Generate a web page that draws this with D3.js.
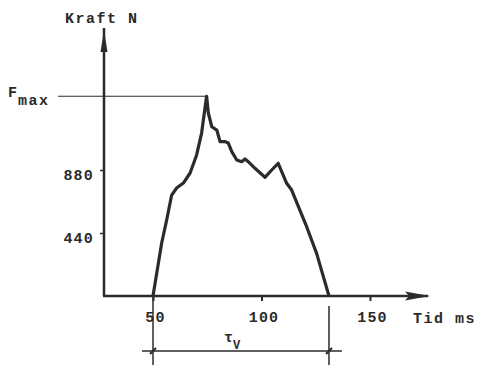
<!DOCTYPE html>
<html>
<head>
<meta charset="utf-8">
<script src="https://cdn.jsdelivr.net/npm/d3@7"></script>
<style>
  body { margin: 0; background: #fff; }
  text { font-family: "Liberation Mono", "DejaVu Sans Mono", monospace; font-weight: bold; fill: #2b2b2b; }
</style>
</head>
<body>
<script>
// force curve (time in ms, force in N)
const tid   = [50, 54.0, 56.3, 58.6, 60.9, 64.0, 67.1, 70.1, 72.4, 74.7, 75.5, 77.1, 79.4, 80.9, 83.2, 84.7, 86.3, 88.6, 90.9, 92.4, 93.9, 97.0, 101.6, 104.7, 107.7, 111.6, 113.9, 120.8, 125.4, 131.1];
const kraft = [0, 370, 531, 705, 754, 789, 859, 985, 1138, 1395, 1278, 1182, 1159, 1078, 1078, 1068, 1008, 950, 938, 957, 938, 892, 829, 880, 927, 787, 740, 484, 298, 0];
const xTicks = [50, 100, 150];
const yTicks = [440, 880];
const fMax = 1395;
const tauStart = 50, tauEnd = 131.1;

const width = 480, height = 365;
const ink = "#2b2b2b";

const svg = d3.select("body").append("svg")
    .attr("width", width)
    .attr("height", height);

// scales
const x = d3.scaleLinear().domain([50, 150]).range([153, 370]);
const y = d3.scaleLinear().domain([0, 880]).range([296, 170]);

const x0 = 104, y0 = y(0);

// x axis ticks + labels
const xAxis = svg.append("g")
    .attr("transform", "translate(0," + y0 + ")")
    .call(d3.axisBottom(x).tickValues(xTicks).tickSize(5).tickPadding(10).tickFormat(d3.format("d")));
xAxis.select(".domain").remove();
xAxis.selectAll("line").attr("stroke", ink).attr("stroke-width", 2);
xAxis.selectAll("text").style("font-size", "15px").style("letter-spacing", "1.2px").attr("fill", ink).attr("dx", 2);

// y axis ticks + labels
const yAxis = svg.append("g")
    .attr("transform", "translate(" + x0 + ",0)")
    .call(d3.axisLeft(y).tickValues(yTicks).tickSize(4).tickPadding(6));
yAxis.select(".domain").remove();
yAxis.selectAll("line").attr("stroke", ink).attr("stroke-width", 1.5);
yAxis.selectAll("text").style("font-size", "15px").style("letter-spacing", "1.2px").attr("fill", ink).attr("dy", "0.6em");

// axis lines with arrows
svg.append("line")
    .attr("x1", x0).attr("y1", y0).attr("x2", x0).attr("y2", 28)
    .attr("stroke", ink).attr("stroke-width", 2.5);
svg.append("path")
    .attr("d", `M${x0},30 L${x0 - 3.5},52 L${x0 + 3.5},52 Z`)
    .attr("fill", ink);

svg.append("line")
    .attr("x1", x0 - 1).attr("y1", y0).attr("x2", 428).attr("y2", y0)
    .attr("stroke", ink).attr("stroke-width", 2.5);
svg.append("path")
    .attr("d", `M430,${y0} L405,${y0 - 4.5} L409,${y0} L405,${y0 + 4.5} Z`)
    .attr("fill", ink);

// axis titles
svg.append("text")
    .attr("x", 65).attr("y", 23)
    .style("font-size", "15px").style("letter-spacing", "1.5px")
    .text("Kraft N");

svg.append("text")
    .attr("x", 413).attr("y", 323)
    .style("font-size", "15px").style("letter-spacing", "1.5px")
    .text("Tid ms");

// F max line
svg.append("line")
    .attr("x1", 58).attr("x2", x(74.2))
    .attr("y1", y(fMax)).attr("y2", y(fMax))
    .attr("stroke", ink).attr("stroke-width", 1.2);

const fLabel = svg.append("text")
    .attr("x", 8).attr("y", y(fMax) + 1)
    .style("font-size", "15px");
fLabel.append("tspan").text("F");
fLabel.append("tspan").attr("dy", 8).attr("dx", 1).style("letter-spacing", "1.5px").text("max");

// force curve
const line = d3.line()
    .x((d, i) => x(tid[i]))
    .y(d => y(d))
    .curve(d3.curveLinear);

svg.append("path")
    .datum(kraft)
    .attr("d", line)
    .attr("fill", "none")
    .attr("stroke", ink)
    .attr("stroke-width", 3.2)
    .attr("stroke-linejoin", "round");

// tau_v dimension
const dimY = 351;
svg.append("line")
    .attr("x1", x(tauStart)).attr("x2", x(tauStart))
    .attr("y1", y0).attr("y2", height)
    .attr("stroke", ink).attr("stroke-width", 1.5);
svg.append("line")
    .attr("x1", x(tauEnd)).attr("x2", x(tauEnd))
    .attr("y1", y0 + 10).attr("y2", height)
    .attr("stroke", ink).attr("stroke-width", 1.5);
svg.append("line")
    .attr("x1", x(tauStart) - 11).attr("x2", x(tauEnd) + 13)
    .attr("y1", dimY).attr("y2", dimY)
    .attr("stroke", ink).attr("stroke-width", 1.5);

[tauStart, tauEnd].forEach(t => {
    svg.append("line")
        .attr("x1", x(t) - 3).attr("x2", x(t) + 3)
        .attr("y1", dimY + 3).attr("y2", dimY - 3)
        .attr("stroke", ink).attr("stroke-width", 2);
});

const tau = svg.append("text")
    .attr("x", 224).attr("y", 342)
    .style("font-size", "15px");
tau.append("tspan").text("τ");
tau.append("tspan").attr("dy", 7).style("font-size", "12px").text("V");
</script>
</body>
</html>
